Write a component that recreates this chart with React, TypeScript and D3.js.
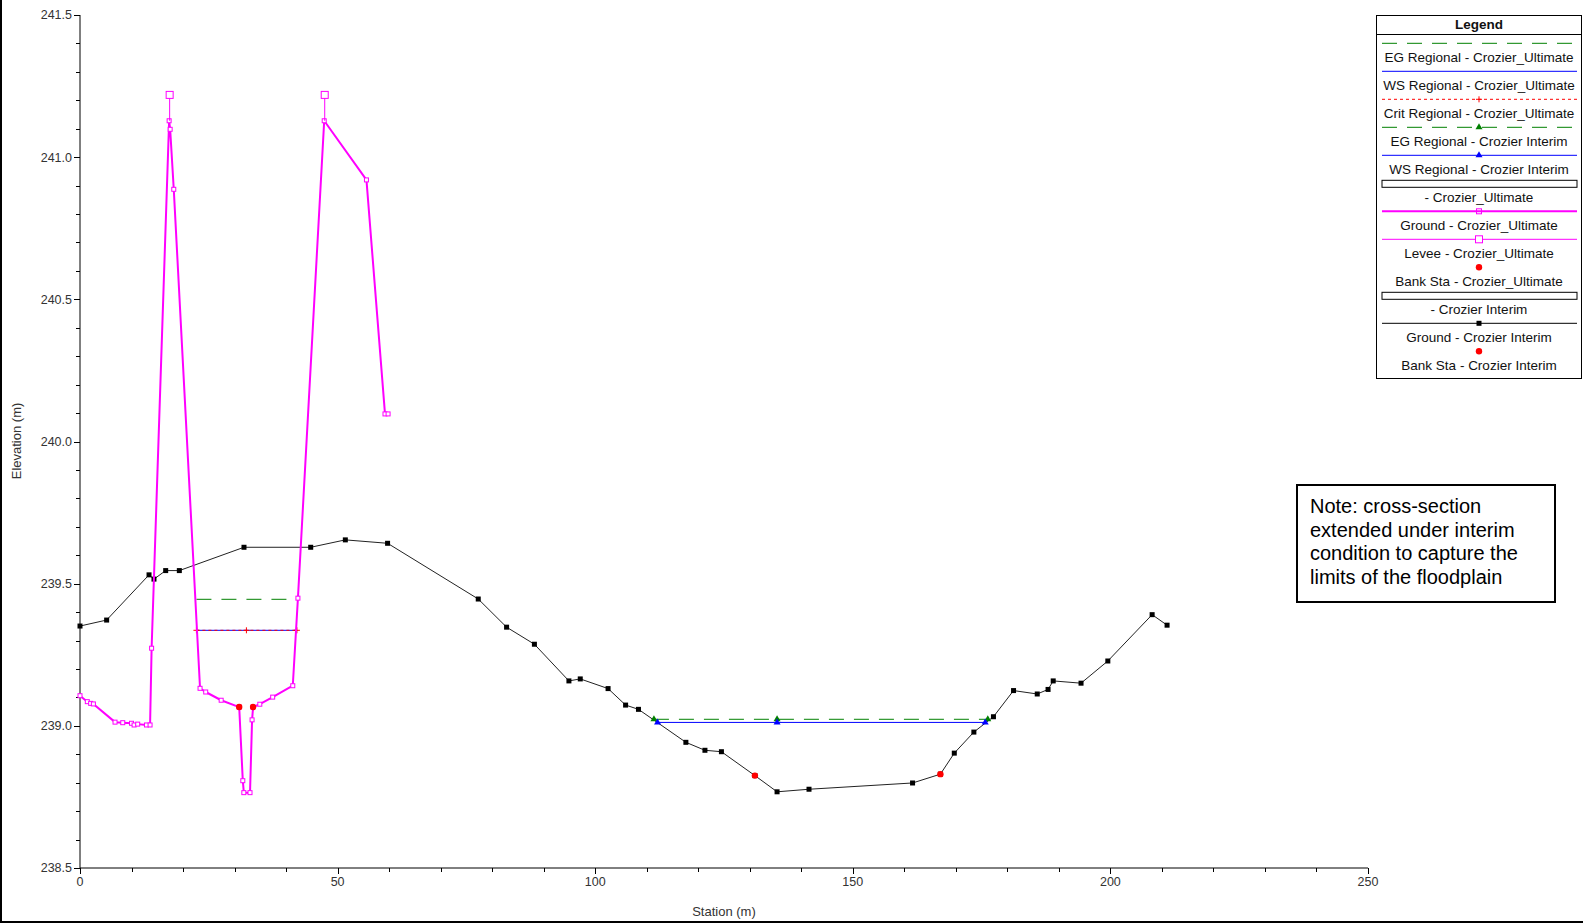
import React from "react";
import * as d3 from "d3";

// ---------- DATA ----------
const interimStation = [0, 5.17, 13.4, 14.36, 16.63, 19.28, 31.83, 44.78, 51.5, 59.7, 77.3, 82.8, 88.2, 94.9, 97.1, 102.5, 105.9, 108.4, 117.6, 121.3, 124.5, 131.0, 135.3, 141.5, 161.6, 167.0, 169.7, 173.5, 177.3, 181.2, 185.8, 187.9, 188.9, 194.3, 199.5, 208.1, 211.0];
const interimElev = [239.351, 239.372, 239.531, 239.516, 239.546, 239.546, 239.628, 239.628, 239.654, 239.642, 239.446, 239.347, 239.287, 239.158, 239.165, 239.131, 239.073, 239.058, 238.942, 238.914, 238.909, 238.825, 238.768, 238.777, 238.799, 238.830, 238.904, 238.978, 239.032, 239.124, 239.112, 239.128, 239.158, 239.150, 239.228, 239.391, 239.354];

const ultStation = [0, 1.42, 2.07, 2.6, 6.8, 8.3, 10.0, 10.5, 11.2, 12.9, 13.6, 13.9, 17.3, 17.5, 18.2, 23.3, 24.4, 27.4, 30.9, 31.6, 31.8, 33.0, 33.4, 33.6, 34.9, 37.4, 41.3, 42.3, 47.4, 55.6, 59.2, 59.8];
const ultElev = [239.106, 239.085, 239.079, 239.077, 239.013, 239.011, 239.009, 239.003, 239.006, 239.003, 239.003, 239.273, 241.128, 241.098, 240.887, 239.132, 239.119, 239.090, 239.066, 238.807, 238.765, 238.765, 239.021, 239.066, 239.076, 239.101, 239.141, 239.449, 241.128, 240.920, 240.097, 240.097];

const leveeUltStation = [17.4, 47.5];
const leveeUltTop = [241.219, 241.219];
const leveeUltBase = [241.128, 241.128];

const bankUltStation = [30.9, 33.6];
const bankUltElev = [239.066, 239.066];
const bankIntStation = [131.0, 167.0];
const bankIntElev = [238.825, 238.830];

// water surfaces: [start station, end station, elevation]
const egUlt = [22.6, 42.3, 239.445];
const wsUlt = [22.6, 42.1, 239.336];
const critUlt = [22.6, 42.1, 239.336];
const critUltMarks = [22.6, 32.3, 42.1];
const egInt = [111.4, 176.2, 239.023];
const egIntMarks = [111.4, 135.3, 176.2];
const wsInt = [112.1, 175.7, 239.012];
const wsIntMarks = [112.1, 135.3, 175.7];

const xTicks = [0, 50, 100, 150, 200, 250];
const yTicks = [238.5, 239.0, 239.5, 240.0, 240.5, 241.0, 241.5];

const legendLabels = [
  "EG Regional - Crozier_Ultimate",
  "WS Regional - Crozier_Ultimate",
  "Crit Regional - Crozier_Ultimate",
  "EG Regional - Crozier Interim",
  "WS Regional - Crozier Interim",
  "- Crozier_Ultimate",
  "Ground - Crozier_Ultimate",
  "Levee - Crozier_Ultimate",
  "Bank Sta - Crozier_Ultimate",
  "- Crozier Interim",
  "Ground - Crozier Interim",
  "Bank Sta - Crozier Interim",
];

const noteLines = [
  "Note: cross-section",
  "extended under interim",
  "condition to capture the",
  "limits of the floodplain",
];

// ---------- CHART ----------
const W = 1583;
const H = 924;
const FONT = "Arial, 'Liberation Sans', sans-serif";

const x = d3.scaleLinear().domain([0, 250]).range([80, 1368]);
const y = d3.scaleLinear().domain([238.5, 241.5]).range([868, 15]);

const GREEN = "#008000";
const BLUE = "#0000ff";
const RED = "#ff0000";
const MAG = "#ff00ff";

function Tri({ cx, cy, color }: { cx: number; cy: number; color: string }) {
  return <path d={`M${cx},${cy - 4}L${cx + 3.5},${cy + 2}L${cx - 3.5},${cy + 2}Z`} fill={color} />;
}
function Plus({ cx, cy, color }: { cx: number; cy: number; color: string }) {
  return (
    <path d={`M${cx - 3},${cy}H${cx + 3}M${cx},${cy - 3}V${cy + 3}`} stroke={color} strokeWidth={1} />
  );
}

export default function App() {
  const line = d3.line<[number, number]>().x((d) => x(d[0])).y((d) => y(d[1]));
  const interimPts: [number, number][] = interimStation.map((s, i) => [s, interimElev[i]]);
  const ultPts: [number, number][] = ultStation.map((s, i) => [s, ultElev[i]]);

  const xMinor = d3.range(0, 251, 10);
  const yMinor = d3.range(0, 31).map((i) => 238.5 + i * 0.1);

  const LX0 = 1376, LX1 = 1582, LXc = (LX0 + LX1) / 2;
  const lx0 = 1382, lx1 = 1577;
  const symY = (i: number) => 43.3 + i * 28;
  const txtY = (i: number) => 57 + i * 28;

  const legendSymbols = [
    (yy: number) => <line x1={lx0} x2={lx1} y1={yy} y2={yy} stroke={GREEN} strokeWidth={1} strokeDasharray="15,10" />,
    (yy: number) => <line x1={lx0} x2={lx1} y1={yy} y2={yy} stroke={BLUE} strokeWidth={1} />,
    (yy: number) => (
      <g>
        <line x1={lx0} x2={lx1} y1={yy} y2={yy} stroke={RED} strokeWidth={1} strokeDasharray="3,3" />
        <Plus cx={LXc} cy={yy} color={RED} />
      </g>
    ),
    (yy: number) => (
      <g>
        <line x1={lx0} x2={lx1} y1={yy} y2={yy} stroke={GREEN} strokeWidth={1} strokeDasharray="15,10" />
        <Tri cx={LXc} cy={yy} color={GREEN} />
      </g>
    ),
    (yy: number) => (
      <g>
        <line x1={lx0} x2={lx1} y1={yy} y2={yy} stroke={BLUE} strokeWidth={1} />
        <Tri cx={LXc} cy={yy} color={BLUE} />
      </g>
    ),
    (yy: number) => <rect x={lx0} y={yy - 3} width={lx1 - lx0} height={7} fill="#fff" stroke="#000" strokeWidth={1} />,
    (yy: number) => (
      <g>
        <line x1={lx0} x2={lx1} y1={yy} y2={yy} stroke={MAG} strokeWidth={2} />
        <rect x={LXc - 2.5} y={yy - 2.5} width={5} height={5} fill="none" stroke={MAG} strokeWidth={1} />
      </g>
    ),
    (yy: number) => (
      <g>
        <line x1={lx0} x2={lx1} y1={yy} y2={yy} stroke={MAG} strokeWidth={1} />
        <rect x={LXc - 3.5} y={yy - 3.5} width={7} height={7} fill="#fff" stroke={MAG} strokeWidth={1} />
      </g>
    ),
    (yy: number) => <circle cx={LXc} cy={yy} r={3.2} fill={RED} />,
    (yy: number) => <rect x={lx0} y={yy - 3} width={lx1 - lx0} height={7} fill="#fff" stroke="#000" strokeWidth={1} />,
    (yy: number) => (
      <g>
        <line x1={lx0} x2={lx1} y1={yy} y2={yy} stroke="#000" strokeWidth={1} />
        <rect x={LXc - 2.5} y={yy - 2.5} width={5} height={5} fill="#000" />
      </g>
    ),
    (yy: number) => <circle cx={LXc} cy={yy} r={3.2} fill={RED} />,
  ];

  return (
    <svg
      width={W}
      height={H}
      viewBox={`0 0 ${W} ${H}`}
      style={{ position: "absolute", left: 0, top: 0, background: "#fff" }}
      fontFamily={FONT}
    >
      <rect x={0} y={0} width={W} height={H} fill="#fff" />
      {/* frame */}
      <rect x={0} y={0} width={2} height={923} fill="#000" />
      <rect x={0} y={921} width={W} height={2} fill="#000" />

      {/* axes */}
      <line x1={80} x2={80} y1={15} y2={868} stroke="#000" strokeWidth={1} />
      <line x1={80} x2={1368} y1={868} y2={868} stroke="#000" strokeWidth={1} />
      {yMinor.map((v, i) => (
        <line key={"ym" + i} x1={80 - (i % 5 === 0 ? 6 : 4)} x2={80} y1={Math.round(y(v)) + 0.5} y2={Math.round(y(v)) + 0.5} stroke="#000" strokeWidth={1} />
      ))}
      {xMinor.map((v, i) => (
        <line key={"xm" + i} x1={Math.round(x(v)) + 0.5} x2={Math.round(x(v)) + 0.5} y1={868} y2={868 + (i % 5 === 0 ? 6 : 4)} stroke="#000" strokeWidth={1} />
      ))}
      {yTicks.map((v) => (
        <text key={"yt" + v} x={72} y={y(v)} dy="0.35em" textAnchor="end" fontSize={12.5} fill="#333">
          {v.toFixed(1)}
        </text>
      ))}
      {xTicks.map((v) => (
        <text key={"xt" + v} x={x(v)} y={882} dy="0.35em" textAnchor="middle" fontSize={12.5} fill="#333">
          {v}
        </text>
      ))}
      <text x={724} y={911} dy="0.35em" textAnchor="middle" fontSize={13} fill="#333">
        Station (m)
      </text>
      <text transform="translate(16,441) rotate(-90)" dy="0.35em" textAnchor="middle" fontSize={13} fill="#333">
        Elevation (m)
      </text>

      {/* interim ground */}
      <path d={line(interimPts) || ""} fill="none" stroke="#222" strokeWidth={1} />
      {interimPts.map((p, i) => (
        <rect key={"ig" + i} x={x(p[0]) - 2.5} y={y(p[1]) - 2.5} width={5} height={5} fill="#000" />
      ))}

      {/* interim water surfaces */}
      <line x1={x(egInt[0])} x2={x(egInt[1])} y1={y(egInt[2])} y2={y(egInt[2])} stroke={GREEN} strokeWidth={1} strokeDasharray="15,10" />
      {egIntMarks.map((s, i) => (
        <Tri key={"egm" + i} cx={x(s)} cy={y(egInt[2])} color={GREEN} />
      ))}
      <line x1={x(wsInt[0])} x2={x(wsInt[1])} y1={y(wsInt[2])} y2={y(wsInt[2])} stroke={BLUE} strokeWidth={1} />
      {wsIntMarks.map((s, i) => (
        <Tri key={"wsm" + i} cx={x(s)} cy={y(wsInt[2])} color={BLUE} />
      ))}

      {/* ultimate water surfaces */}
      <line x1={x(egUlt[0])} x2={x(egUlt[1])} y1={y(egUlt[2])} y2={y(egUlt[2])} stroke={GREEN} strokeWidth={1} strokeDasharray="15,10" />
      <line x1={x(wsUlt[0])} x2={x(wsUlt[1])} y1={y(wsUlt[2])} y2={y(wsUlt[2])} stroke={BLUE} strokeWidth={1} />
      <line x1={x(critUlt[0])} x2={x(critUlt[1])} y1={y(critUlt[2])} y2={y(critUlt[2])} stroke={RED} strokeWidth={1} strokeDasharray="3,3" />
      {critUltMarks.map((s, i) => (
        <Plus key={"cm" + i} cx={x(s)} cy={y(critUlt[2])} color={RED} />
      ))}

      {/* ultimate ground */}
      <path d={line(ultPts) || ""} fill="none" stroke={MAG} strokeWidth={2} strokeLinejoin="round" />
      {ultPts.map((p, i) => (
        <rect key={"ug" + i} x={x(p[0]) - 2} y={y(p[1]) - 2} width={4} height={4} fill="#fff" stroke={MAG} strokeWidth={1} />
      ))}

      {/* levees */}
      {leveeUltStation.map((s, i) => (
        <g key={"lv" + i}>
          <line x1={x(s)} x2={x(s)} y1={y(leveeUltTop[i])} y2={y(leveeUltBase[i])} stroke={MAG} strokeWidth={1} />
          <rect x={x(s) - 3.5} y={y(leveeUltTop[i]) - 3.5} width={7} height={7} fill="#fff" stroke={MAG} strokeWidth={1} />
        </g>
      ))}

      {/* bank stations */}
      {bankUltStation.map((s, i) => (
        <circle key={"bu" + i} cx={x(s)} cy={y(bankUltElev[i])} r={3.2} fill={RED} />
      ))}
      {bankIntStation.map((s, i) => (
        <circle key={"bi" + i} cx={x(s)} cy={y(bankIntElev[i])} r={3.2} fill={RED} />
      ))}

      {/* legend */}
      <rect x={LX0 + 0.5} y={15.5} width={LX1 - LX0 - 1} height={363} fill="#fff" stroke="#000" strokeWidth={1} />
      <line x1={LX0} x2={LX1} y1={34.5} y2={34.5} stroke="#000" strokeWidth={1} />
      <text x={LXc} y={24.5} dy="0.35em" textAnchor="middle" fontSize={13.5} fontWeight="bold" fill="#111">
        Legend
      </text>
      {legendLabels.map((lab, i) => (
        <g key={"lg" + i}>
          {legendSymbols[i](symY(i))}
          <text x={LXc} y={txtY(i)} dy="0.35em" textAnchor="middle" fontSize={13.5} fill="#111">
            {lab}
          </text>
        </g>
      ))}

      {/* note */}
      <rect x={1297} y={485} width={258} height={117} fill="#fff" stroke="#000" strokeWidth={2} />
      {noteLines.map((t, i) => (
        <text key={"nt" + i} x={1310} y={513 + i * 23.5} fontSize={20} fill="#000">
          {t}
        </text>
      ))}
    </svg>
  );
}
